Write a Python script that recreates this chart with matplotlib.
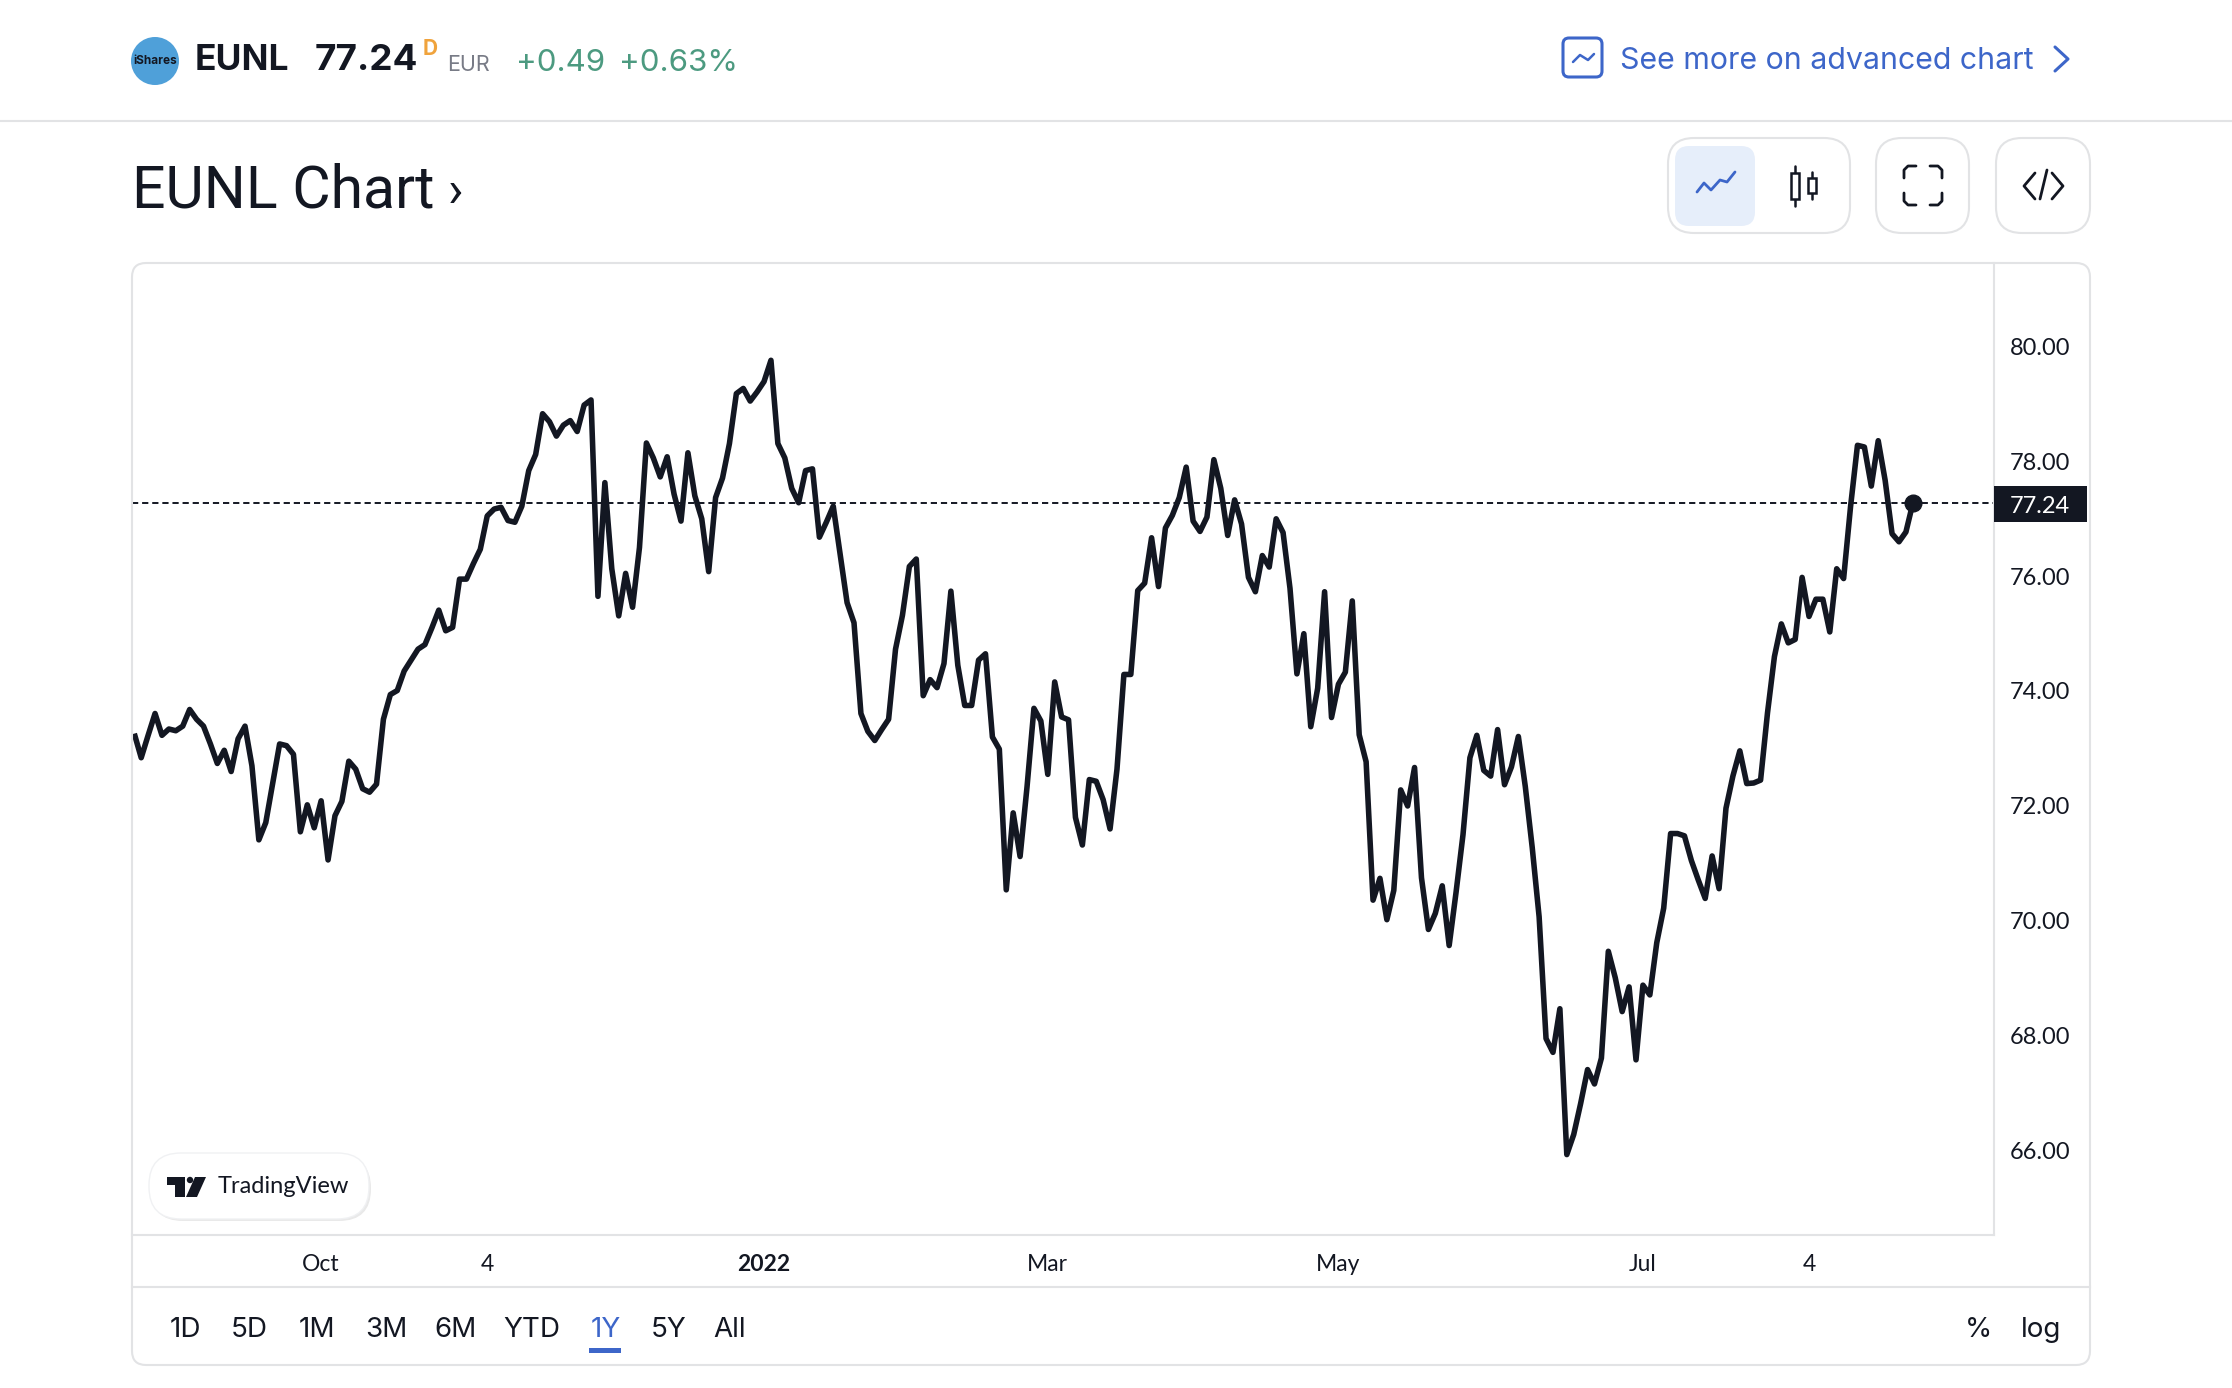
import numpy as np
import matplotlib
matplotlib.use("Agg")
import matplotlib.pyplot as plt
from matplotlib.patches import FancyBboxPatch, Circle, Polygon, Rectangle
from matplotlib.transforms import ScaledTranslation

plt.rcParams["font.family"] = ["Inter", "DejaVu Sans"]

# -------------------------------------------------------
# data
# -------------------------------------------------------
prices = [
    73.23, 72.81, 73.20, 73.58, 73.20, 73.31, 73.28, 73.36, 73.65, 73.48,
    73.36, 73.05, 72.71, 72.94, 72.57, 73.14, 73.36, 72.67, 71.38, 71.68,
    72.36, 73.05, 73.02, 72.87, 71.52, 71.99, 71.59, 72.06, 71.03, 71.80,
    72.05, 72.75, 72.61, 72.27, 72.21, 72.35, 73.48, 73.91, 73.98, 74.32,
    74.51, 74.70, 74.78, 75.07, 75.38, 75.02, 75.08, 75.92, 75.92, 76.19,
    76.44, 77.02, 77.14, 77.17, 76.94, 76.91, 77.19, 77.81, 78.09, 78.80,
    78.66, 78.41, 78.60, 78.68, 78.49, 78.95, 79.04, 75.62, 77.60, 76.10,
    75.28, 76.02, 75.43, 76.47, 78.29, 78.03, 77.70, 78.05, 77.40, 76.93,
    78.12, 77.37, 76.97, 76.05, 77.34, 77.68, 78.28, 79.15, 79.24, 79.02,
    79.18, 79.36, 79.73, 78.28, 78.03, 77.50, 77.25, 77.81, 77.84, 76.65,
    76.91, 77.19, 76.35, 75.51, 75.16, 73.58, 73.27, 73.11, 73.30, 73.48,
    74.70, 75.29, 76.14, 76.27, 73.89, 74.17, 74.03, 74.45, 75.71, 74.42,
    73.72, 73.72, 74.51, 74.62, 73.17, 72.96, 70.51, 71.85, 71.09, 72.30,
    73.67, 73.45, 72.52, 74.13, 73.52, 73.47, 71.77, 71.29, 72.43, 72.40,
    72.08, 71.57, 72.61, 74.26, 74.26, 75.72, 75.85, 76.64, 75.79, 76.81,
    77.03, 77.34, 77.87, 76.93, 76.75, 77.00, 78.00, 77.50, 76.68, 77.30,
    76.88, 75.95, 75.70, 76.33, 76.13, 76.97, 76.73, 75.76, 74.27, 74.97,
    73.35, 74.02, 75.70, 73.51, 74.09, 74.30, 75.54, 73.21, 72.74, 70.33,
    70.71, 69.99, 70.50, 72.25, 71.97, 72.64, 70.72, 69.82, 70.10, 70.58,
    69.54, 70.47, 71.47, 72.81, 73.20, 72.59, 72.49, 73.30, 72.34, 72.65,
    73.18, 72.31, 71.25, 70.04, 67.92, 67.68, 68.44, 65.90, 66.25, 66.79,
    67.38, 67.13, 67.58, 69.44, 68.98, 68.39, 68.82, 67.55, 68.85, 68.68,
    69.59, 70.19, 71.49, 71.49, 71.45, 71.02, 70.68, 70.36, 71.10, 70.53,
    71.93, 72.49, 72.93, 72.36, 72.37, 72.42, 73.59, 74.57, 75.14, 74.81,
    74.87, 75.95, 75.27, 75.57, 75.57, 75.00, 76.10, 75.93, 77.18, 78.25,
    78.22, 77.54, 78.33, 77.64, 76.71, 76.57, 76.74, 77.24,
]
last_price = 77.24

price_ticks = [66, 68, 70, 72, 74, 76, 78, 80]
time_pos = [27, 51, 91, 132, 174, 218, 242]
time_labels = ["Oct", "4", "2022", "Mar", "May", "Jul", "4"]
ranges = ["1D", "5D", "1M", "3M", "6M", "YTD", "1Y", "5Y", "All"]
range_x = [185, 249, 317, 386, 455, 532, 606, 669, 730]

INK = "#131722"
BLUE = "#3d66c9"
GRID = "#e2e3e5"
GREEN = "#4c9a80"

W, H = 2232, 1388
fig = plt.figure(figsize=(W / 100, H / 100), dpi=100, facecolor="white")


def px_box(left, top, right, bottom):
    return [left / W, 1 - bottom / H, (right - left) / W, (bottom - top) / H]


# -------------------------------------------------------
# price chart
# -------------------------------------------------------
ax = fig.add_axes(px_box(132, 263, 1994, 1235))
x = np.arange(len(prices))
ax.plot(x, prices, color=INK, lw=4.0, solid_joinstyle="round", solid_capstyle="butt")
ax.plot(x[-1], last_price, "o", color=INK, ms=12)
ax.axhline(last_price, color=INK, lw=1.4, dashes=(3.2, 2.0), zorder=1)

ax.set_xlim(-0.33, x[-1] + 11.73)
ax.set_ylim(64.50, 81.424)

ax.yaxis.tick_right()
ax.set_yticks(price_ticks)
ax.set_yticklabels([f"{p:.2f}" for p in price_ticks], family="Lato", fontsize=17, color=INK)
ax.set_xticks(time_pos)
ax.set_xticklabels(time_labels, family="Lato", fontsize=16.5, color=INK)
ax.get_xticklabels()[2].set_fontweight("bold")
ax.tick_params(axis="both", length=0)
ax.tick_params(axis="y", pad=11.5)
ax.tick_params(axis="x", pad=13.5)

# tick labels sit a little lower than the tick position in the original
for t in ax.get_yticklabels():
    t.set_transform(t.get_transform() + ScaledTranslation(0, -1.5 / 100, fig.dpi_scale_trans))

for side in ["top", "left"]:
    ax.spines[side].set_visible(False)
for side in ["right", "bottom"]:
    ax.spines[side].set_color(GRID)
    ax.spines[side].set_linewidth(1.5)

# -------------------------------------------------------
# page around the chart, drawn in pixel coordinates
# -------------------------------------------------------
ov = fig.add_axes([0, 0, 1, 1], facecolor="none")
ov.set_xlim(0, W)
ov.set_ylim(H, 0)
ov.axis("off")


def box(x0, y0, x1, y1, r, fc="none", ec=GRID, lw=1.5, **kw):
    p = FancyBboxPatch((x0, y0), x1 - x0, y1 - y0, boxstyle=f"round,pad=0,rounding_size={r}",
                       fc=fc, ec=ec, lw=lw, **kw)
    ov.add_patch(p)
    return p


def stroke(pts, color=INK, lw=2.0):
    xs, ys = zip(*pts)
    ov.plot(xs, ys, color=color, lw=lw, solid_capstyle="round", solid_joinstyle="round")


def label(x0, y0, s, size, color=INK, ha="left", weight="normal", **kw):
    ov.text(x0, y0, s, fontsize=size, color=color, ha=ha, va="baseline", fontweight=weight, **kw)


# card and dividers
box(132, 263, 2090, 1365, 14)
ov.plot([0, W], [121, 121], color=GRID, lw=1.5)
ov.plot([132, 2090], [1287, 1287], color=GRID, lw=1.5)

# last price flag
ov.add_patch(Rectangle((1994, 486), 93, 36, fc=INK, ec="none"))
ov.text(2040, 513, f"{last_price:.2f}", family="Lato", fontsize=17, color="white", ha="center", va="baseline")

# header
ov.add_patch(Circle((155, 61), 24, fc="#4fa0d9", ec="none"))
ov.text(155, 61, "iShares", fontsize=8.5, color=INK, ha="center", va="center", fontweight="bold")
label(195, 70, "EUNL", 25.5, weight="bold")
label(315, 70, "77.24", 26.5, weight="bold")
label(423, 55, "D", 15, color="#f0a33c", weight="bold")
label(447, 71, "EUR", 15.5, color="#787b86")
label(516, 71, "+0.49", 22.5, color=GREEN)
label(619, 71, "+0.63%", 22.5, color=GREEN)

label(132, 207, "EUNL Chart", 42.5, family="Roboto")
label(448, 207, "›", 37, family="Roboto")

# advanced chart link
box(1563, 38, 1602, 77, 6, ec=BLUE, lw=2.2)
stroke([(1573, 62), (1580, 55), (1588, 60), (1594, 54)], BLUE, 1.8)
label(1620, 69, "See more on advanced chart", 21.8, color=BLUE)
stroke([(2055, 47), (2068, 59), (2055, 71)], BLUE, 2.2)

# chart style buttons
box(1668, 138, 1850, 233, 26)
box(1675, 146, 1755, 226, 14, fc="#e6eefa", ec="none")
stroke([(1697, 192), (1704, 183), (1711, 190), (1720, 180), (1727, 182), (1735, 172)], BLUE, 2.0)
for cx, wick, body in [(1795, (166, 206), (173, 199)), (1812, (172, 199), (178, 193))]:
    stroke([(cx, wick[0]), (cx, wick[1])], INK, 1.8)
    ov.add_patch(Rectangle((cx - 4, body[0]), 8, body[1] - body[0], fc="white", ec=INK, lw=1.8, zorder=3))

# fullscreen button
box(1876, 138, 1969, 233, 26)
stroke([(1904, 178), (1904, 170), (1908, 166), (1916, 166)])
stroke([(1930, 166), (1938, 166), (1942, 170), (1942, 178)])
stroke([(1904, 193), (1904, 201), (1908, 205), (1916, 205)])
stroke([(1930, 205), (1938, 205), (1942, 201), (1942, 193)])

# embed button
box(1996, 138, 2090, 233, 26)
stroke([(2035, 173), (2024, 186), (2035, 199)])
stroke([(2047, 170), (2040, 199)])
stroke([(2052, 173), (2063, 186), (2052, 199)])

# TradingView badge
box(151, 1156, 371, 1221, 32, fc="#e9e9e9", ec="none")
box(149, 1153, 369, 1219, 32, fc="white", ec="#f0f1f3", lw=1)
ov.add_patch(Polygon([(167, 1177), (185, 1177), (185, 1197), (175, 1197), (175, 1185), (167, 1185)], fc=INK, ec="none"))
ov.add_patch(Circle((190, 1180), 3.2, fc=INK, ec="none"))
ov.add_patch(Polygon([(195, 1177), (206, 1177), (197, 1197), (186, 1197)], fc=INK, ec="none"))
label(218, 1193, "TradingView", 17, family="Lato")

# range tabs
for rx, rng in zip(range_x, ranges):
    label(rx, 1337, rng, 20, color=BLUE if rng == "1Y" else INK, ha="center")
ov.add_patch(Rectangle((589, 1348), 32, 5, fc=BLUE, ec="none"))
label(1979, 1337, "%", 20, ha="center")
label(2041, 1337, "log", 20, ha="center")

fig.savefig("out.png", dpi=100)
